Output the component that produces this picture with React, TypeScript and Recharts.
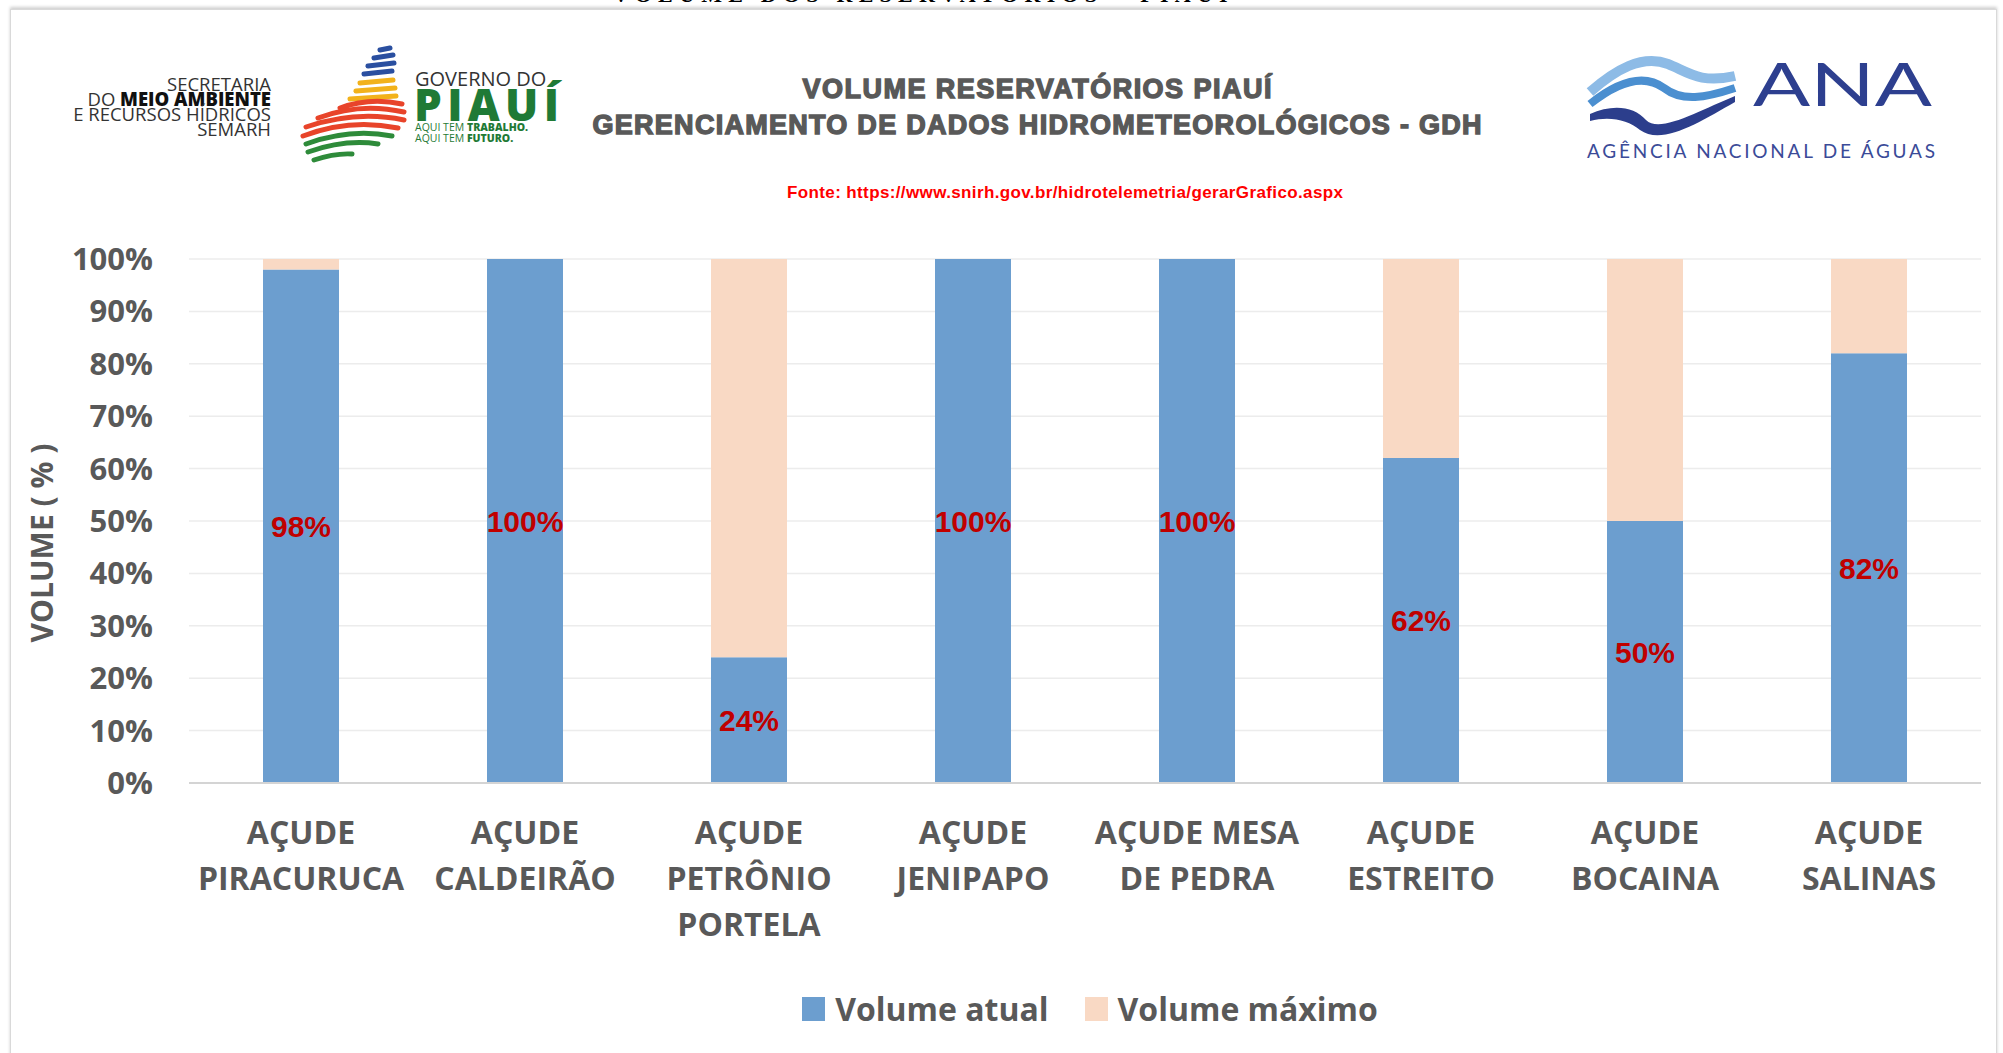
import React from "react";
import { Bar, BarChart, CartesianGrid, LabelList, XAxis, YAxis } from "recharts";

const RESERVATORIOS = [
  "AÇUDE\nPIRACURUCA",
  "AÇUDE\nCALDEIRÃO",
  "AÇUDE\nPETRÔNIO\nPORTELA",
  "AÇUDE\nJENIPAPO",
  "AÇUDE MESA\nDE PEDRA",
  "AÇUDE\nESTREITO",
  "AÇUDE\nBOCAINA",
  "AÇUDE\nSALINAS",
];
const VOLUME_ATUAL = [98, 100, 24, 100, 100, 62, 50, 82];
const VOLUME_MAXIMO = [2, 0, 76, 0, 0, 38, 50, 18];
const Y_TICKS = [0, 10, 20, 30, 40, 50, 60, 70, 80, 90, 100];

const AZUL = "#6C9ECF";
const PESSEGO = "#F9D9C4";
const CINZA = "#595959";
const FONTE = "Open Sans";

const data = RESERVATORIOS.map((nome, i) => ({
  nome,
  atual: VOLUME_ATUAL[i],
  maximo: VOLUME_MAXIMO[i],
}));

const CategoryTick = (props: any) => {
  const { x, y, payload } = props;
  const lines = String(payload.value).split("\n");
  return (
    <text x={x} y={y} textAnchor="middle" fill={CINZA} fontFamily={FONTE} fontWeight={700} fontSize={32}>
      {lines.map((l, i) => (
        <tspan key={i} x={x} dy={i === 0 ? 61 : 46}>
          {l}
        </tspan>
      ))}
    </text>
  );
};

const Header = () => (
  <svg width={2003} height={1053} style={{ position: "absolute", left: 0, top: 0, pointerEvents: "none" }}>
    {/* titulo cortado no topo */}
    <text x={613} y={2} fontFamily="Liberation Serif" fontWeight={700} fontSize={22} fill="#000" textLength={640}>
      VOLUME DOS RESERVATÓRIOS - PIAUÍ -
    </text>

    {/* SEMARH */}
    <g fontFamily={FONTE} fontSize={18.5} fill="#333" textAnchor="end">
      <text x={271} y={91}>SECRETARIA</text>
      <text x={271} y={106}>
        DO <tspan fontWeight={800} fill="#111">MEIO AMBIENTE</tspan>
      </text>
      <text x={271} y={121}>E RECURSOS HÍDRICOS</text>
      <text x={271} y={136}>SEMARH</text>
    </g>

    {/* Governo do Piauí */}
    <g fill="none" strokeLinecap="round" strokeWidth={5}>
      <path d="M380,50 L390,48" stroke="#2a4fa0" />
      <path d="M374,58 L393,55" stroke="#2a4fa0" />
      <path d="M368,66 L394,63" stroke="#2a4fa0" />
      <path d="M364,74 L392,71" stroke="#2a4fa0" />
      <path d="M360,83 L393,80" stroke="#f2b21b" />
      <path d="M356,91 L395,88" stroke="#f2b21b" />
      <path d="M350,99 L396,96" stroke="#f2b21b" />
      <path d="M340,108 Q370,97 402,104" stroke="#e8442a" />
      <path d="M318,118 Q360,102 404,112" stroke="#e8442a" />
      <path d="M306,127 Q356,110 404,120" stroke="#e8442a" />
      <path d="M303,136 Q350,118 398,128" stroke="#e8442a" />
      <path d="M306,144 Q350,128 392,136" stroke="#2e8b3a" />
      <path d="M308,152 Q345,139 378,144" stroke="#2e8b3a" />
      <path d="M314,160 Q335,153 352,154" stroke="#2e8b3a" />
    </g>
    <text x={415} y={86} fontFamily={FONTE} fontSize={20} fill="#333">
      GOVERNO DO
    </text>
    <text x={414} y={121} fontFamily={FONTE} fontWeight={800} fontSize={44} fill="#1f7a36" textLength={145}>
      PIAUÍ
    </text>
    <text x={415} y={131} fontFamily={FONTE} fontSize={10.5} fill="#1f7a36">
      AQUI TEM <tspan fontWeight={800}>TRABALHO.</tspan>
    </text>
    <text x={415} y={142} fontFamily={FONTE} fontSize={10.5} fill="#1f7a36">
      AQUI TEM <tspan fontWeight={800}>FUTURO.</tspan>
    </text>

    {/* titulo */}
    <g fontFamily="Liberation Sans" fontWeight={700} fill={CINZA} stroke={CINZA} strokeWidth={1.4} textAnchor="middle">
      <text x={1037} y={98} fontSize={27} textLength={469}>
        VOLUME RESERVATÓRIOS PIAUÍ
      </text>
      <text x={1037} y={134} fontSize={27} textLength={889}>
        GERENCIAMENTO DE DADOS HIDROMETEOROLÓGICOS - GDH
      </text>
    </g>
    <text
      x={1065}
      y={198}
      textAnchor="middle"
      fontFamily="Liberation Sans"
      fontWeight={700}
      fontSize={17}
      fill="#ff0000"
      textLength={556}
    >
      Fonte: https://www.snirh.gov.br/hidrotelemetria/gerarGrafico.aspx
    </text>

    {/* ANA */}
    <path d="M1590,92 C1615,70 1642,54 1668,64 C1688,72 1700,84 1735,76" fill="none" stroke="#8dbbe6" strokeWidth={10} />
    <path d="M1590,104 C1615,84 1642,72 1664,88 C1682,102 1705,98 1735,88" fill="none" stroke="#4b8fd0" strokeWidth={8} />
    <path
      d="M1590,114 C1612,104 1634,106 1646,120 C1660,134 1700,110 1735,96 L1735,102 C1700,122 1662,146 1640,130 C1628,120 1610,116 1590,121 Z"
      fill="#2c3e8c"
    />
    <text
      x={1753}
      y={106}
      fontFamily="Lato"
      fontWeight={400}
      fontSize={60}
      fill="#2d3f8f"
      textLength={179}
      lengthAdjust="spacingAndGlyphs"
    >
      ANA
    </text>
    <text x={1587} y={158} fontFamily="Lato" fontSize={19} fill="#3b4b98" textLength={348}>
      AGÊNCIA NACIONAL DE ÁGUAS
    </text>

    {/* titulo do eixo Y */}
    <text
      x={41}
      y={543}
      transform="rotate(-90 41 543)"
      textAnchor="middle"
      dominantBaseline="central"
      fontFamily={FONTE}
      fontWeight={700}
      fontSize={30}
      fill={CINZA}
    >
      VOLUME ( % )
    </text>
  </svg>
);

const LegendaItem = ({ cor, texto }: { cor: string; texto: string }) => (
  <div style={{ display: "flex", alignItems: "center" }}>
    <div style={{ width: 23, height: 24, background: cor, marginRight: 10 }} />
    <span style={{ fontFamily: FONTE, fontWeight: 700, fontSize: 32, color: CINZA }}>{texto}</span>
  </div>
);

export default function App() {
  return (
    <div
      style={{
        position: "fixed",
        left: 0,
        top: 0,
        width: 2003,
        height: 1053,
        background: "#fff",
        overflow: "hidden",
      }}
    >
      <div
        style={{
          position: "absolute",
          left: 10,
          top: 9,
          width: 1985,
          height: 1100,
          border: "1px solid #d9d9d9",
          boxShadow: "0 -2px 3px #d0d0d0",
        }}
      />
      <Header />
      <div style={{ position: "absolute", left: 0, top: 0 }}>
        <BarChart width={2003} height={1053} data={data} margin={{ top: 259, right: 22, bottom: 100, left: 0 }}>
          <CartesianGrid vertical={false} stroke="#ececec" strokeWidth={1.5} />
          <XAxis
            dataKey="nome"
            interval={0}
            height={170}
            tickLine={false}
            tickSize={0}
            tickMargin={0}
            axisLine={{ stroke: "#d4d4d4", strokeWidth: 2 }}
            tick={<CategoryTick />}
          />
          <YAxis
            width={189}
            domain={[0, 100]}
            ticks={Y_TICKS}
            tickFormatter={(v) => `${v}%`}
            axisLine={false}
            tickLine={false}
            tickSize={0}
            tickMargin={36}
            tick={{ fill: CINZA, fontFamily: FONTE, fontWeight: 700, fontSize: 31 }}
          />
          <Bar dataKey="atual" stackId="a" fill={AZUL} barSize={76} isAnimationActive={false}>
            <LabelList
              dataKey="atual"
              position="center"
              formatter={(v: any) => `${v}%`}
              fill="#C00000"
              fontFamily="Liberation Sans"
              fontWeight={700}
              fontSize={30}
            />
          </Bar>
          <Bar dataKey="maximo" stackId="a" fill={PESSEGO} barSize={76} isAnimationActive={false} />
        </BarChart>
      </div>
      <div
        style={{
          position: "absolute",
          left: 0,
          top: 987,
          width: 2180,
          display: "flex",
          justifyContent: "center",
          gap: 36,
        }}
      >
        <LegendaItem cor={AZUL} texto="Volume atual" />
        <LegendaItem cor={PESSEGO} texto="Volume máximo" />
      </div>
    </div>
  );
}
